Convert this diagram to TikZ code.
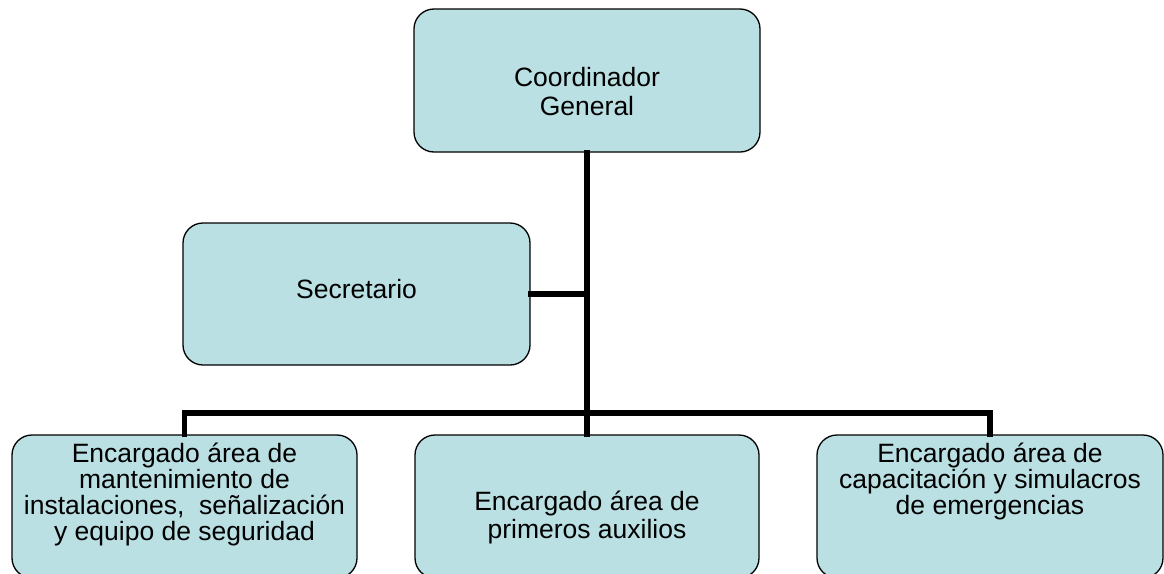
\documentclass[tikz,border=0pt]{standalone}
\usepackage{fontspec}
\setmainfont{Liberation Sans}
\definecolor{boxfill}{RGB}{186,224,228}
\begin{document}
\begin{tikzpicture}[x=1pt,y=1pt,
  box/.style={draw=black,line width=1.3pt,fill=boxfill,rounded corners=20pt,inner sep=0pt},
  conn/.style={line width=5.5pt,line cap=rect,black},
  lbl/.style={align=center,anchor=base,inner sep=0pt,font=\fontsize{26.5}{26}\selectfont}]
\useasboundingbox (0,0) rectangle (1164,-573);
\begin{scope}
\clip (0,0) rectangle (1164,-573);
\node[box,minimum width=346pt,minimum height=143pt] (coord) at (587,-80.5) {};
\node[box,minimum width=347pt,minimum height=142pt] (sec) at (356.5,-294) {};
\node[box,minimum width=345pt,minimum height=143pt] (b1) at (184.5,-506.5) {};
\node[box,minimum width=344pt,minimum height=143pt] (b2) at (587,-506.5) {};
\node[box,minimum width=346pt,minimum height=143pt] (b3) at (990,-506.5) {};
\end{scope}
\coordinate (bar) at (587,-413);
\draw[conn] (coord.south) -- (b2.north);
\draw[conn] (sec.east) -- (sec.east -| coord.south);
\draw[conn] (b1.north) |- (bar) -| (b3.north);
\node[lbl,font=\fontsize{26.5}{28.5}\selectfont] (tcoord) at (587,-115) {Coordinador\\General};
\node[lbl] (tsec) at (356.5,-298) {Secretario};
\node[lbl] (tb1) at (184.5,-540) {Encargado área de\\mantenimiento de\\instalaciones,\ \ señalización\\y equipo de seguridad};
\node[lbl,font=\fontsize{26.5}{28}\selectfont] (tb2) at (587,-538) {Encargado área de\\primeros auxilios};
\node[lbl] (tb3) at (990,-514) {Encargado área de\\capacitación y simulacros\\de emergencias};
\end{tikzpicture}
\end{document}
